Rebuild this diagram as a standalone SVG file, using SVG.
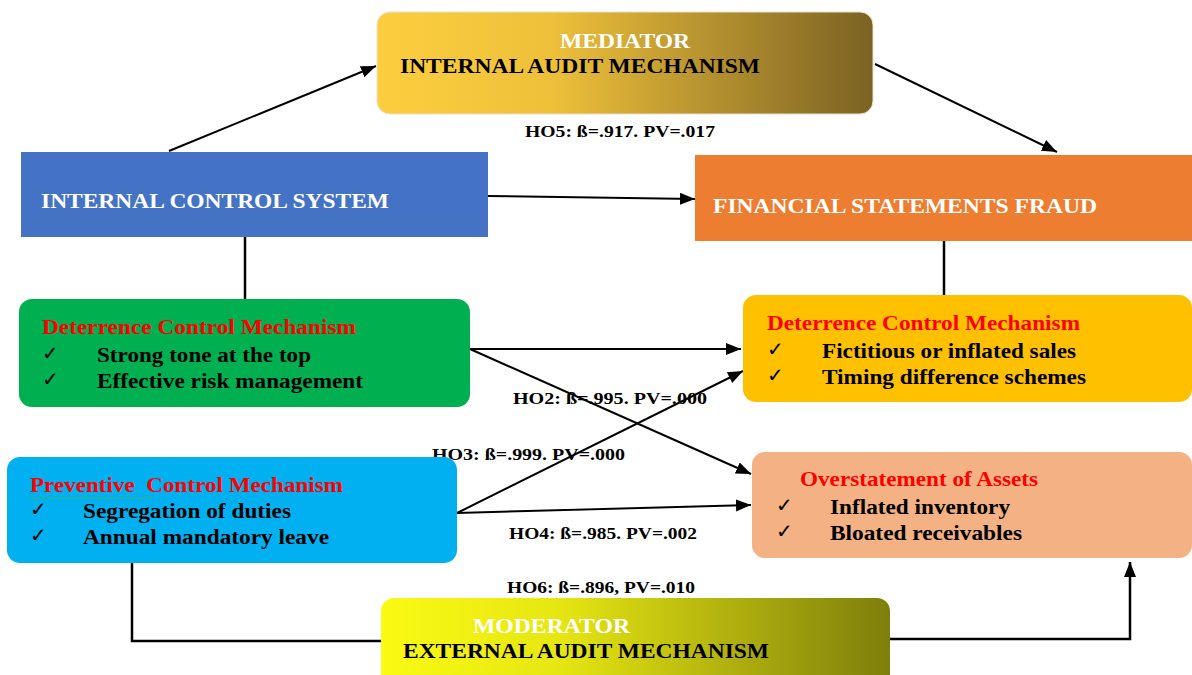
<svg xmlns="http://www.w3.org/2000/svg" width="1192" height="675" viewBox="0 0 1192 675">
<defs>
<linearGradient id="gMed" x1="0" y1="0" x2="1" y2="0">
<stop offset="0" stop-color="#FCCE3E"/>
<stop offset="0.35" stop-color="#EEC03A"/>
<stop offset="1" stop-color="#7B6224"/>
</linearGradient>
<linearGradient id="gMod" x1="0" y1="0" x2="1" y2="0">
<stop offset="0" stop-color="#FAFA14"/>
<stop offset="0.35" stop-color="#E6E612"/>
<stop offset="1" stop-color="#7E7E0C"/>
</linearGradient>
<marker id="arr" markerUnits="userSpaceOnUse" markerWidth="16" markerHeight="14" refX="15" refY="6" orient="auto">
<path d="M0,0 L15,6 L0,12 Z" fill="#000"/>
</marker>
<style>
text{font-family:"Liberation Serif","Times New Roman",serif;font-weight:bold}
.w{fill:#fff}
.k{fill:#000}
.r{fill:#FF0000}
.big{font-size:22px}
.mid{font-size:21px}
.item{font-size:22px}
.lbl{font-size:17px;fill:#000}
.chk{font-family:"DejaVu Sans",sans-serif;font-weight:normal;font-size:20px;fill:#000}
.ln{stroke:#000;stroke-width:2;fill:none}
</style>
</defs>

<g id="connectors">
<line class="ln" x1="169" y1="151" x2="376" y2="66" marker-end="url(#arr)"/>
<line class="ln" x1="875" y1="64" x2="1057" y2="152" marker-end="url(#arr)"/>
<line class="ln" x1="488" y1="196" x2="695" y2="199" marker-end="url(#arr)"/>
<line class="ln" x1="245" y1="237" x2="245" y2="299" style="stroke-width:2.5"/>
<line class="ln" x1="944" y1="241" x2="944" y2="295" style="stroke-width:2.5"/>
<line class="ln" x1="470" y1="349" x2="741" y2="349" marker-end="url(#arr)"/>
<line class="ln" x1="470" y1="349" x2="751" y2="474" marker-end="url(#arr)"/>
<line class="ln" x1="457" y1="513" x2="743" y2="371" marker-end="url(#arr)"/>
<line class="ln" x1="457" y1="513" x2="751" y2="505" marker-end="url(#arr)"/>
<polyline class="ln" points="132,563 132,641 381,641" style="stroke-width:2.5"/>
<polyline class="ln" points="890,639 1130,639 1130,562" style="stroke-width:2.5" marker-end="url(#arr)"/>
</g>

<g id="mediator">
<rect x="377" y="12" width="496" height="102" rx="13" fill="url(#gMed)" stroke="#E8E0C8" stroke-width="1"/>
<text class="w big" x="560" y="48" textLength="130" lengthAdjust="spacingAndGlyphs">MEDIATOR</text>
<text class="k big" x="400" y="73" textLength="360" lengthAdjust="spacingAndGlyphs">INTERNAL AUDIT MECHANISM</text>
</g>
<text class="lbl" x="525" y="137" textLength="190" lengthAdjust="spacingAndGlyphs">HO5: ß=.917. PV=.017</text>

<g id="ics">
<rect x="21" y="152" width="467" height="85" fill="#4472C4"/>
<text class="w big" x="41" y="208" textLength="348" lengthAdjust="spacingAndGlyphs">INTERNAL CONTROL SYSTEM</text>
</g>

<g id="fsf">
<rect x="695" y="155" width="497" height="86" fill="#ED7D31"/>
<text class="w big" x="713" y="213" textLength="384" lengthAdjust="spacingAndGlyphs">FINANCIAL STATEMENTS FRAUD</text>
</g>

<g id="deterrence-left">
<rect x="19" y="299" width="451" height="108" rx="13" fill="#00B050"/>
<text class="r mid" x="42" y="334" textLength="314" lengthAdjust="spacingAndGlyphs">Deterrence Control Mechanism</text>
<text class="chk" x="42" y="360">✓</text>
<text class="k item" x="97" y="362" textLength="214" lengthAdjust="spacingAndGlyphs">Strong tone at the top</text>
<text class="chk" x="42" y="386">✓</text>
<text class="k item" x="97" y="388" textLength="266" lengthAdjust="spacingAndGlyphs">Effective risk management</text>
</g>

<g id="deterrence-right">
<rect x="743" y="295" width="449" height="107" rx="13" fill="#FFC000"/>
<text class="r mid" x="767" y="330" textLength="313" lengthAdjust="spacingAndGlyphs">Deterrence Control Mechanism</text>
<text class="chk" x="767" y="356">✓</text>
<text class="k item" x="822" y="358" textLength="254" lengthAdjust="spacingAndGlyphs">Fictitious or inflated sales</text>
<text class="chk" x="767" y="382">✓</text>
<text class="k item" x="822" y="384" textLength="264" lengthAdjust="spacingAndGlyphs">Timing difference schemes</text>
</g>

<text class="lbl" x="513" y="404" textLength="194" lengthAdjust="spacingAndGlyphs">HO2: ß=.995. PV=.000</text>
<text class="lbl" x="432" y="460" textLength="193" lengthAdjust="spacingAndGlyphs">HO3: ß=.999. PV=.000</text>

<g id="preventive">
<rect x="7" y="457" width="450" height="106" rx="13" fill="#00B0F0"/>
<text class="r mid" x="30" y="492" textLength="313" lengthAdjust="spacingAndGlyphs" xml:space="preserve">Preventive  Control Mechanism</text>
<path d="M30,498 q2,-2 4,0 t4,0 t4,0 t4,0 t4,0 t4,0 t4,0 t4,0 t4,0 t4,0 t4,0 t4,0 t4,0 t4,0 t4,0 t4,0 t4,0 t4,0 t4,0 t4,0 t4,0 t4,0 t4,0 t4,0 t4,0 t4,0 t4,0 t4,0 t4,0 t4,0 t3,0" fill="none" stroke="#3CB371" stroke-width="1"/>
<text class="chk" x="30" y="516">✓</text>
<text class="k item" x="83" y="518" textLength="208" lengthAdjust="spacingAndGlyphs">Segregation of duties</text>
<text class="chk" x="30" y="542">✓</text>
<text class="k item" x="83" y="544" textLength="246" lengthAdjust="spacingAndGlyphs">Annual mandatory leave</text>
</g>

<text class="lbl" x="509" y="539" textLength="188" lengthAdjust="spacingAndGlyphs">HO4: ß=.985. PV=.002</text>

<g id="overstatement">
<rect x="752" y="452" width="440" height="106" rx="13" fill="#F4B183"/>
<text class="r mid" x="800" y="486" textLength="238" lengthAdjust="spacingAndGlyphs">Overstatement of Assets</text>
<text class="chk" x="776" y="512">✓</text>
<text class="k item" x="830" y="514" textLength="180" lengthAdjust="spacingAndGlyphs">Inflated inventory</text>
<text class="chk" x="776" y="538">✓</text>
<text class="k item" x="830" y="540" textLength="192" lengthAdjust="spacingAndGlyphs">Bloated receivables</text>
</g>

<text class="lbl" x="507" y="593" textLength="188" lengthAdjust="spacingAndGlyphs">HO6: ß=.896, PV=.010</text>

<g id="moderator">
<rect x="381" y="598" width="509" height="95" rx="13" fill="url(#gMod)"/>
<text class="w big" x="473" y="633" textLength="157" lengthAdjust="spacingAndGlyphs">MODERATOR</text>
<text class="k big" x="403" y="658" textLength="366" lengthAdjust="spacingAndGlyphs">EXTERNAL AUDIT MECHANISM</text>
</g>
</svg>
